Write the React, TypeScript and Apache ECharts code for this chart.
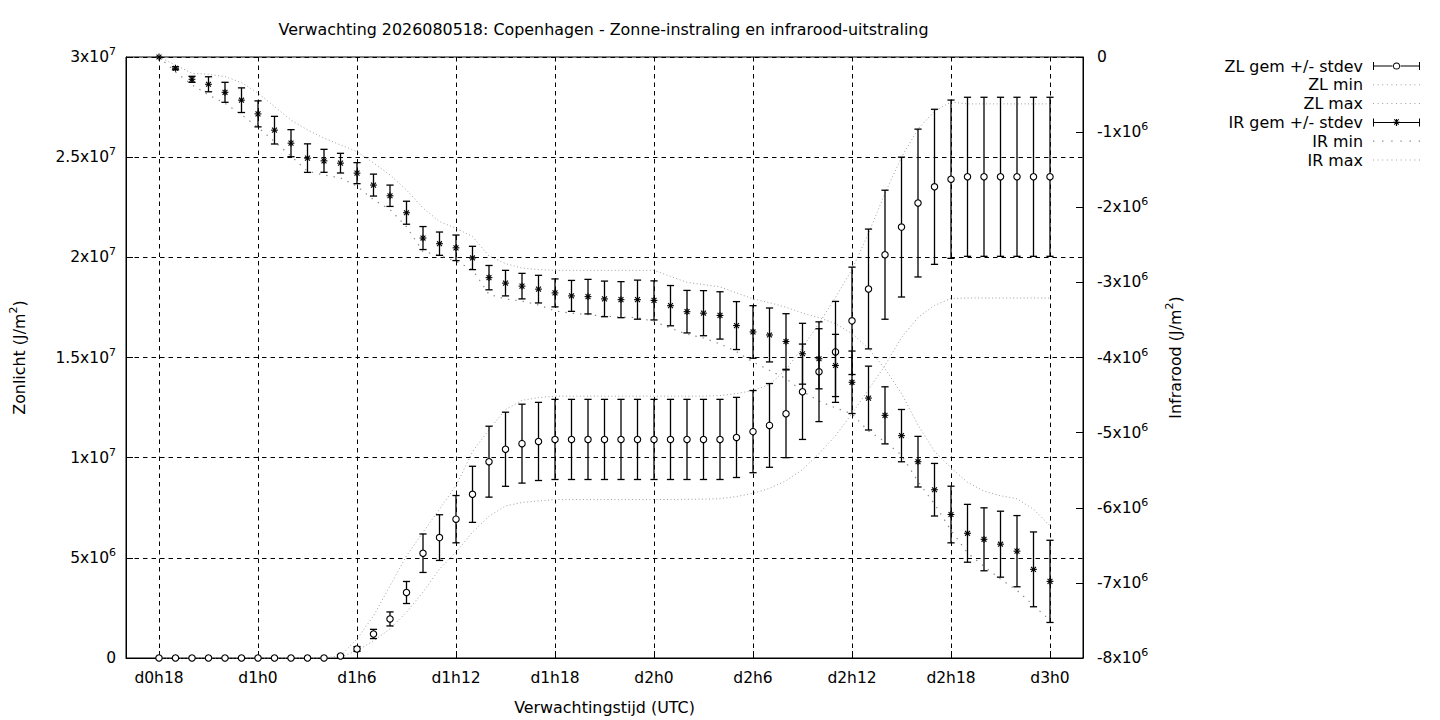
import React, { useEffect, useRef } from "react";
import * as echarts from "echarts";

const FONT = "DejaVu Sans";
const FS = 15.9; // title, legend, axis names
const FS_TICK = 15.5; // tick labels

const TITLE = "Verwachting 2026080518: Copenhagen - Zonne-instraling en infrarood-uitstraling";
const X_NAME = "Verwachtingstijd (UTC)";

// axis runs two hours beyond the data on both sides
const AXIS_FIRST_HOUR = 16;
const AXIS_LAST_HOUR = 74;
const TICK_LABELS = ["d0h18", "d1h0", "d1h6", "d1h12", "d1h18", "d2h0", "d2h6", "d2h12", "d2h18", "d3h0"];

const HOURS = [
  18, 19, 20, 21, 22, 23, 24, 25, 26, 27, 28, 29, 30, 31, 32, 33, 34, 35, 36, 37, 38, 39, 40, 41, 42, 43, 44,
  45, 46, 47, 48, 49, 50, 51, 52, 53, 54, 55, 56, 57, 58, 59, 60, 61, 62, 63, 64, 65, 66, 67, 68, 69, 70, 71, 72,
];

// Zonlicht (left axis)
const ZL_MEAN = [
  0, 0, 0, 0, 0, 0, 0, 0, 0, 0, 0,
  1.0e5, 4.5e5, 1.2e6, 1.95e6, 3.27e6, 5.23e6, 6.01e6, 6.93e6, 8.17e6, 9.8e6, 1.042e7, 1.07e7, 1.081e7,
  1.091e7, 1.091e7, 1.091e7, 1.091e7, 1.091e7, 1.091e7, 1.091e7, 1.091e7, 1.091e7, 1.091e7, 1.091e7,
  1.101e7, 1.13e7, 1.161e7, 1.219e7, 1.329e7, 1.429e7, 1.528e7, 1.683e7, 1.842e7, 2.013e7, 2.151e7, 2.271e7, 2.352e7, 2.39e7,
  2.402e7, 2.402e7, 2.402e7, 2.402e7, 2.402e7, 2.402e7,
];
const ZL_STDEV = [
  0, 0, 0, 0, 0, 0, 0, 0, 0, 0, 0,
  5e4, 1.2e5, 2.3e5, 3.5e5, 5.5e5, 9.6e5, 1.14e6, 1.18e6, 1.4e6, 1.77e6, 1.85e6, 1.97e6, 1.95e6,
  2.0e6, 2.0e6, 2.0e6, 2.0e6, 2.0e6, 2.0e6, 2.0e6, 2.0e6, 2.0e6, 2.0e6, 2.0e6,
  2.0e6, 2.05e6, 2.09e6, 2.19e6, 2.38e6, 2.49e6, 2.52e6, 2.68e6, 2.99e6, 3.22e6, 3.49e6, 3.69e6, 3.87e6, 3.95e6,
  3.97e6, 3.97e6, 3.97e6, 3.97e6, 3.97e6, 3.97e6,
];
const ZL_MIN = [
  0, 0, 0, 0, 0, 0, 0, 0, 0, 0, 0,
  5e4, 3.6e5, 8.6e5, 1.45e6, 2.29e6, 3.29e6, 4.44e6, 5.28e6, 6.28e6, 7.08e6, 7.59e6, 7.76e6, 7.84e6,
  7.91e6, 7.91e6, 7.91e6, 7.91e6, 7.91e6, 7.91e6, 7.91e6, 7.91e6, 7.92e6, 7.93e6, 7.95e6,
  8.06e6, 8.22e6, 8.47e6, 8.85e6, 9.4e6, 1.02e7, 1.11e7, 1.22e7, 1.34e7, 1.46e7, 1.6e7, 1.7e7, 1.76e7, 1.795e7,
  1.797e7, 1.797e7, 1.797e7, 1.797e7, 1.797e7, 1.797e7,
];
const ZL_MAX = [
  0, 0, 0, 0, 0, 0, 0, 0, 0, 0, 0,
  1.0e5, 9.5e5, 2.1e6, 3.6e6, 5.1e6, 6.28e6, 7.43e6, 8.6e6, 1.03e7, 1.14e7, 1.24e7, 1.286e7, 1.3e7,
  1.307e7, 1.307e7, 1.307e7, 1.307e7, 1.307e7, 1.307e7, 1.307e7, 1.307e7, 1.307e7, 1.307e7, 1.31e7,
  1.32e7, 1.335e7, 1.365e7, 1.44e7, 1.55e7, 1.67e7, 1.8e7, 1.94e7, 2.12e7, 2.32e7, 2.5e7, 2.64e7, 2.73e7, 2.775e7,
  2.766e7, 2.766e7, 2.766e7, 2.766e7, 2.766e7, 2.766e7,
];

// Infrarood (right axis)
const IR_MEAN = [
  0, -1.5e5, -2.97e5, -3.63e5, -4.7e5, -5.75e5, -7.57e5, -9.74e5, -1.147e6, -1.346e6, -1.382e6, -1.413e6,
  -1.546e6, -1.705e6, -1.847e6, -2.073e6, -2.41e6, -2.485e6, -2.54e6, -2.675e6, -2.937e6, -3.01e6, -3.05e6,
  -3.09e6, -3.14e6, -3.18e6, -3.19e6, -3.22e6, -3.23e6, -3.23e6, -3.24e6, -3.31e6, -3.39e6, -3.41e6, -3.44e6,
  -3.575e6, -3.66e6, -3.7e6, -3.787e6, -3.95e6, -4.017e6, -4.106e6, -4.33e6, -4.54e6, -4.77e6, -5.04e6,
  -5.387e6, -5.76e6, -6.09e6, -6.34e6, -6.42e6, -6.485e6, -6.578e6, -6.82e6, -6.98e6,
];
const IR_STDEV = [
  0, 2e4, 4e4, 1.0e5, 1.33e5, 1.64e5, 1.73e5, 1.84e5, 1.8e5, 1.9e5, 1.53e5, 1.31e5,
  1.4e5, 1.46e5, 1.42e5, 1.53e5, 1.53e5, 1.55e5, 1.7e5, 1.55e5, 1.62e5, 1.7e5, 1.7e5,
  1.84e5, 1.86e5, 2.06e5, 2.3e5, 2.37e5, 2.4e5, 2.6e5, 2.6e5, 2.68e5, 2.83e5, 3.0e5, 3.15e5,
  3.19e5, 3.5e5, 3.59e5, 3.7e5, 4.05e5, 4.0e5, 4.14e5, 4.16e5, 4.25e5, 3.8e5, 3.48e5,
  3.37e5, 3.5e5, 3.77e5, 3.85e5, 4.19e5, 4.39e5, 4.74e5, 4.98e5, 5.47e5,
];
const IR_MIN = [
  0, -2.0e5, -3.7e5, -5.05e5, -6.15e5, -7.7e5, -9.35e5, -1.125e6, -1.32e6, -1.52e6, -1.57e6, -1.61e6,
  -1.72e6, -1.9e6, -2.03e6, -2.26e6, -2.59e6, -2.64e6, -2.72e6, -2.83e6, -3.16e6, -3.22e6, -3.25e6,
  -3.3e6, -3.38e6, -3.41e6, -3.43e6, -3.45e6, -3.46e6, -3.47e6, -3.52e6, -3.61e6, -3.69e6, -3.74e6, -3.82e6,
  -3.92e6, -4.06e6, -4.17e6, -4.28e6, -4.45e6, -4.58e6, -4.67e6, -4.75e6, -4.98e6, -5.12e6, -5.3e6,
  -5.65e6, -5.95e6, -6.3e6, -6.6e6, -6.78e6, -6.95e6, -7.1e6, -7.3e6, -7.5e6,
];
const IR_MAX = [
  0, -1.06e5, -2.17e5, -2.3e5, -2.6e5, -3.4e5, -4.8e5, -6.6e5, -8.4e5, -9.7e5, -1.08e6, -1.17e6,
  -1.26e6, -1.41e6, -1.57e6, -1.77e6, -2.01e6, -2.19e6, -2.28e6, -2.39e6, -2.65e6, -2.75e6, -2.81e6,
  -2.83e6, -2.84e6, -2.84e6, -2.84e6, -2.84e6, -2.84e6, -2.84e6, -2.84e6, -2.92e6, -3.0e6, -3.03e6, -3.06e6,
  -3.14e6, -3.22e6, -3.27e6, -3.33e6, -3.41e6, -3.47e6, -3.55e6, -3.68e6, -3.88e6, -4.15e6, -4.48e6,
  -4.9e6, -5.25e6, -5.47e6, -5.66e6, -5.78e6, -5.84e6, -5.88e6, -6.02e6, -6.24e6,
];

const NAMES = ["ZL gem +/- stdev", "ZL min", "ZL max", "IR gem +/- stdev", "IR min", "IR max"];

const hourLabel = (h: number) => `d${Math.floor(h / 24)}h${h % 24}`;
const CATEGORIES: string[] = [];
for (let h = AXIS_FIRST_HOUR; h <= AXIS_LAST_HOUR; h++) CATEGORIES.push(hourLabel(h));

const isTick = (_i: number, v: string) => TICK_LABELS.indexOf(v) >= 0;

function sci(v: number): string {
  if (v === 0) return "{m|0}";
  const e = Math.floor(Math.log10(Math.abs(v)) + 1e-9);
  const m = Math.round((v / Math.pow(10, e)) * 100) / 100;
  return `{m|${m}x10}{s|${e}}`;
}

const RICH = {
  m: { fontSize: FS_TICK, fontFamily: FONT, color: "#000", lineHeight: 22 },
  s: { fontSize: 11, fontFamily: FONT, color: "#000", lineHeight: 12, verticalAlign: "top" },
};

const NAME_RICH = {
  a: { fontFamily: FONT, fontSize: FS, color: "#000", lineHeight: 22 },
  s: { fontFamily: FONT, fontSize: 11, color: "#000", lineHeight: 12, verticalAlign: "top" },
};

const GRAY = "#a0a0a0";
const GRAY2 = "#8a8a8a";
const DASH = [4.5, 4];

function dotsPath(n: number, w: number, d: number) {
  let p = "path://";
  for (let i = 0; i < n; i++) {
    const x = (i * (w - d)) / (n - 1);
    p += `M${x.toFixed(2)} 0H${(x + d).toFixed(2)}V${d}H${x.toFixed(2)}Z`;
  }
  return p;
}

const ZL_ICON =
  "path://M0 0H1V8H0Z M46 0H47V8H46Z M0 3.5H19.6V4.5H0Z M27.4 3.5H47V4.5H27.4Z " +
  "M27 4A3.5 3.5 0 1 1 20 4A3.5 3.5 0 1 1 27 4Z M26.1 4A2.6 2.6 0 1 0 20.9 4A2.6 2.6 0 1 0 26.1 4Z";
const IR_ICON =
  "path://M0 0H1V8H0Z M46 0H47V8H46Z M0 3.5H47V4.5H0Z " +
  "M20 3.4H27V4.6H20Z M22.9 0.5H24.1V7.5H22.9Z " +
  "M20.9 1.2L21.6 0.5L26.1 5.9L25.4 6.6Z M25.4 0.5L26.1 1.2L21.6 6.6L20.9 5.9Z";

function errorBarItem(kind: "circle" | "star") {
  return (params: any, api: any) => {
    const x = api.value(0);
    const m = api.value(1);
    const s = api.value(2);
    const c = api.coord([x, m]);
    const t = api.coord([x, m + s]);
    const b = api.coord([x, m - s]);
    const ls = { stroke: "#000", lineWidth: 1.3 };
    const cap = 3.6;
    const children: any[] = [];
    if (s > 0) {
      children.push({ type: "line", shape: { x1: c[0], y1: t[1], x2: c[0], y2: b[1] }, style: ls });
      children.push({ type: "line", shape: { x1: c[0] - cap, y1: t[1], x2: c[0] + cap, y2: t[1] }, style: ls });
      children.push({ type: "line", shape: { x1: c[0] - cap, y1: b[1], x2: c[0] + cap, y2: b[1] }, style: ls });
    }
    if (kind === "circle") {
      children.push({
        type: "circle",
        shape: { cx: c[0], cy: c[1], r: 3.2 },
        style: { fill: "#fff", stroke: "#000", lineWidth: 1.1 },
      });
    } else {
      const r = 3.4;
      const d = r * 0.72;
      const st = { stroke: "#000", lineWidth: 1.1 };
      children.push({ type: "line", shape: { x1: c[0] - r, y1: c[1], x2: c[0] + r, y2: c[1] }, style: st });
      children.push({ type: "line", shape: { x1: c[0], y1: c[1] - r, x2: c[0], y2: c[1] + r }, style: st });
      children.push({ type: "line", shape: { x1: c[0] - d, y1: c[1] - d, x2: c[0] + d, y2: c[1] + d }, style: st });
      children.push({ type: "line", shape: { x1: c[0] - d, y1: c[1] + d, x2: c[0] + d, y2: c[1] - d }, style: st });
    }
    return { type: "group", children };
  };
}

function buildOption(): any {
  const zlErr = HOURS.map((h, i) => [hourLabel(h), ZL_MEAN[i], ZL_STDEV[i]]);
  const irErr = HOURS.map((h, i) => [hourLabel(h), IR_MEAN[i], IR_STDEV[i]]);
  const pairs = (arr: number[]) => HOURS.map((h, i) => [hourLabel(h), arr[i]]);
  const textStyle = { fontFamily: FONT, fontSize: FS, color: "#000" };
  const tickText = { fontFamily: FONT, fontSize: FS_TICK, color: "#000" };

  return {
    animation: false,
    backgroundColor: "#fff",
    textStyle: { fontFamily: FONT },
    title: {
      text: TITLE,
      left: 603.5,
      top: 21,
      padding: 0,
      textAlign: "center",
      textStyle: { ...textStyle, fontWeight: "normal" },
    },
    legend: {
      orient: "vertical",
      right: 15,
      top: 53,
      align: "right",
      itemWidth: 47,
      itemHeight: 14,
      itemGap: 2.8,
      selectedMode: false,
      textStyle: { ...textStyle, padding: [0, 5, 0, 0] },
      itemStyle: { borderWidth: 0 },
      data: [
        { name: NAMES[0], icon: ZL_ICON, itemStyle: { color: "#000" } },
        { name: NAMES[1], icon: dotsPath(11, 47, 1), itemStyle: { color: GRAY } },
        { name: NAMES[2], icon: dotsPath(11, 47, 1), itemStyle: { color: GRAY } },
        { name: NAMES[3], icon: IR_ICON, itemStyle: { color: "#000" } },
        { name: NAMES[4], icon: dotsPath(6, 47, 1.3), itemStyle: { color: GRAY2 } },
        { name: NAMES[5], icon: dotsPath(11, 47, 1), itemStyle: { color: GRAY } },
      ],
    },
    grid: {
      left: 124,
      right: 357,
      top: 57,
      bottom: 61,
      show: true,
      borderColor: "#000",
      borderWidth: 1,
      backgroundColor: "transparent",
    },
    xAxis: {
      type: "category",
      data: CATEGORIES,
      boundaryGap: false,
      name: X_NAME,
      nameLocation: "middle",
      nameGap: 41,
      nameTextStyle: textStyle,
      axisLine: { show: true, lineStyle: { color: "#000", width: 1 } },
      axisTick: { show: true, inside: true, length: 7, interval: isTick, lineStyle: { color: "#000" } },
      axisLabel: { interval: isTick, margin: 12, ...tickText },
      splitLine: { show: true, interval: isTick, lineStyle: { color: "#000", width: 1, type: DASH } },
    },
    yAxis: [
      {
        type: "value",
        min: 0,
        max: 3e7,
        interval: 5e6,
        position: "left",
        name: "{a|Zonlicht (J/m}{s|2}{a|)}",
        nameLocation: "middle",
        nameRotate: 90,
        nameGap: 96,
        nameTextStyle: { rich: NAME_RICH },
        axisLine: { show: true, lineStyle: { color: "#000" } },
        axisTick: { show: true, inside: true, length: 7, lineStyle: { color: "#000" } },
        axisLabel: { margin: 10, formatter: (v: number) => sci(v), rich: RICH },
        splitLine: { show: true, lineStyle: { color: "#000", width: 1, type: DASH } },
      },
      {
        type: "value",
        min: -8e6,
        max: 0,
        interval: 1e6,
        position: "right",
        name: "{a|Infrarood (J/m}{s|2}{a|)}",
        nameLocation: "middle",
        nameRotate: 90,
        nameGap: 81,
        nameTextStyle: { rich: NAME_RICH },
        axisLine: { show: true, lineStyle: { color: "#000" } },
        axisTick: { show: true, inside: true, length: 7, lineStyle: { color: "#000" } },
        axisLabel: { margin: 14, formatter: (v: number) => sci(v), rich: RICH },
        splitLine: { show: false },
      },
    ],
    series: [
      {
        name: NAMES[0],
        type: "custom",
        xAxisIndex: 0,
        yAxisIndex: 0,
        dimensions: ["t", "mean", "stdev"],
        encode: { x: 0, y: 1 },
        itemStyle: { color: "#000" },
        renderItem: errorBarItem("circle"),
        data: zlErr,
        z: 3,
      },
      {
        name: NAMES[1],
        type: "line",
        yAxisIndex: 0,
        symbol: "none",
        color: GRAY,
        lineStyle: { color: GRAY, width: 1, type: [1, 2.5] },
        data: pairs(ZL_MIN),
        z: 2,
      },
      {
        name: NAMES[2],
        type: "line",
        yAxisIndex: 0,
        symbol: "none",
        color: GRAY,
        lineStyle: { color: GRAY, width: 1, type: [1, 2.5] },
        data: pairs(ZL_MAX),
        z: 2,
      },
      {
        name: NAMES[3],
        type: "custom",
        xAxisIndex: 0,
        yAxisIndex: 1,
        dimensions: ["t", "mean", "stdev"],
        encode: { x: 0, y: 1 },
        itemStyle: { color: "#000" },
        renderItem: errorBarItem("star"),
        data: irErr,
        z: 3,
      },
      {
        name: NAMES[4],
        type: "line",
        yAxisIndex: 1,
        symbol: "none",
        color: GRAY2,
        lineStyle: { color: GRAY2, width: 1.2, type: [1.4, 6] },
        data: pairs(IR_MIN),
        z: 2,
      },
      {
        name: NAMES[5],
        type: "line",
        yAxisIndex: 1,
        symbol: "none",
        color: GRAY,
        lineStyle: { color: GRAY, width: 1, type: [1, 2.5] },
        data: pairs(IR_MAX),
        z: 2,
      },
    ],
  };
}

export default function App() {
  const ref = useRef<HTMLDivElement>(null);
  useEffect(() => {
    const el = ref.current;
    if (!el) return;
    const chart = echarts.init(el, null, { renderer: "svg" });
    chart.setOption(buildOption());
    return () => chart.dispose();
  }, []);
  return (
    <div
      ref={ref}
      style={{ position: "fixed", left: 0, top: 0, width: 1440, height: 720, background: "#fff" }}
    />
  );
}
